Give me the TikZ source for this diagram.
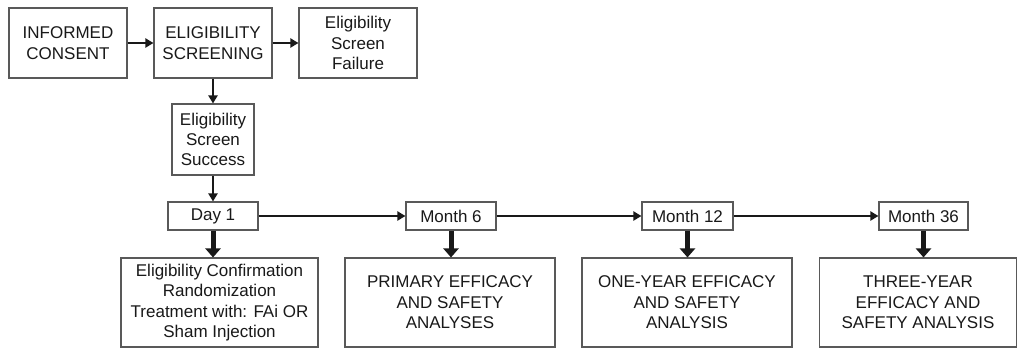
\documentclass[tikz,border=0pt]{standalone}
\usepackage{fontspec}
\setmainfont{Liberation Sans}
\usetikzlibrary{arrows.meta}
\begin{document}
\begin{tikzpicture}[x=1pt,y=-1pt,
  boxbig/.style={draw=black!65,line width=1.1pt,fill=white,inner sep=0pt,align=center,
    font=\fontsize{17}{20.3}\selectfont,text=black!90},
  boxsmall/.style={draw=black!65,line width=1.1pt,fill=white,inner sep=0pt,align=center,
    font=\fontsize{17}{20.6}\selectfont,text=black!90},
  thinarrow/.style={line width=2pt,draw=black!90,-{Triangle[length=8pt,width=9pt]}},
  thickarrow/.style={line width=5pt,draw=black!90,-{Triangle[length=9pt,width=15pt]}}
]
\useasboundingbox (0,0) rectangle (1018,349);
\node[boxbig,minimum width=118pt,minimum height=70pt] (ic) at (68,43) {INFORMED\\CONSENT};
\node[boxbig,minimum width=118pt,minimum height=70pt] (es) at (213,43) {ELIGIBILITY\\SCREENING};
\node[boxbig,minimum width=118pt,minimum height=70pt] (ef) at (358,43) {Eligibility\\Screen\\Failure};
\node[boxbig,minimum width=82pt,minimum height=71pt] (ss) at (213,139.5) {Eligibility\\Screen\\Success};
\node[boxsmall,minimum width=90pt,minimum height=28pt] (d1) at (213,216) {Day 1};
\node[boxsmall,minimum width=90pt,minimum height=28pt] (m6) at (451,216) {Month 6};
\node[boxsmall,minimum width=91pt,minimum height=28pt] (m12) at (687.5,216) {Month 12};
\node[boxsmall,minimum width=89pt,minimum height=28pt] (m36) at (923.5,216) {Month 36};
\node[boxsmall,minimum width=197pt,minimum height=89pt] (b1) at (219.5,302.5) {Eligibility Confirmation\\Randomization\\Treatment with: FAi OR\\Sham Injection};
\node[boxsmall,minimum width=210pt,minimum height=89pt] (b2) at (450,302.5) {PRIMARY EFFICACY\\AND SAFETY\\ANALYSES};
\node[boxsmall,minimum width=210pt,minimum height=89pt] (b3) at (687,302.5) {ONE-YEAR EFFICACY\\AND SAFETY\\ANALYSIS};
\node[boxsmall,minimum width=197pt,minimum height=89pt] (b4) at (918,302.5) {THREE-YEAR\\EFFICACY AND\\SAFETY ANALYSIS};
\draw[thinarrow] (ic) -- (es);
\draw[thinarrow] (es) -- (ef);
\draw[thinarrow] (es) -- (ss);
\draw[thinarrow] (ss) -- (d1);
\draw[thinarrow] (d1) -- (m6);
\draw[thinarrow] (m6) -- (m12);
\draw[thinarrow] (m12) -- (m36);
\draw[thickarrow] (d1.south) -- (d1.south |- b1.north);
\draw[thickarrow] (m6.south) -- (m6.south |- b2.north);
\draw[thickarrow] (m12.south) -- (m12.south |- b3.north);
\draw[thickarrow] (m36.south) -- (m36.south |- b4.north);
\end{tikzpicture}
\end{document}
